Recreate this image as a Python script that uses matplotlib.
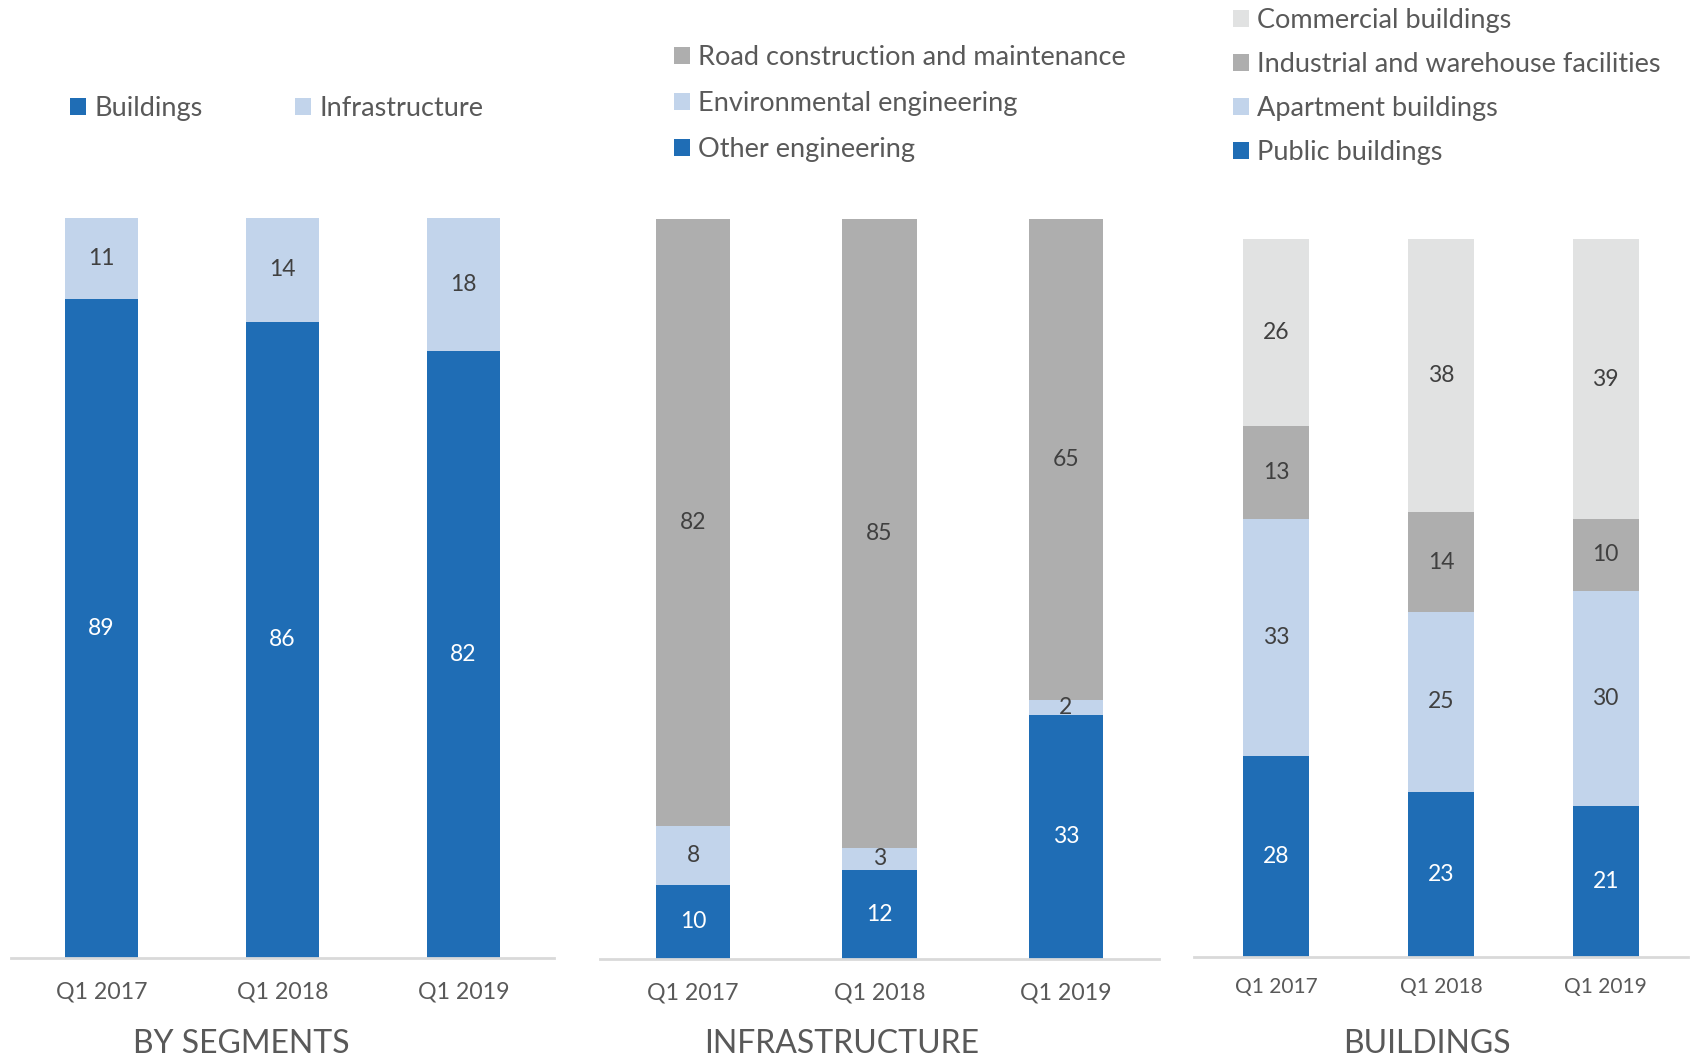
import matplotlib
matplotlib.use("Agg")
import matplotlib.pyplot as plt
import numpy as np

plt.rcParams['font.family'] = ['Lato', 'DejaVu Sans']

quarters = ["Q1 2017", "Q1 2018", "Q1 2019"]

# by segments
seg_buildings = [89, 86, 82]
seg_infra = [11, 14, 18]

# infrastructure
inf_other = [10, 12, 33]
inf_env = [8, 3, 2]
inf_road = [82, 85, 65]

# buildings
bld_public = [28, 23, 21]
bld_apartment = [33, 25, 30]
bld_industrial = [13, 14, 10]
bld_commercial = [26, 38, 39]

BLUE = "#1F6DB5"
LIGHTBLUE = "#C2D4EB"
GRAY = "#AEAEAE"
LIGHTGRAY = "#E1E2E2"
TXT = "#595959"
DARK = "#404040"

W, H = 1691, 1061
fig = plt.figure(figsize=(W / 100, H / 100), dpi=100)


def px_axes(x0, x1, ybase, ytop):
    return fig.add_axes([x0 / W, 1 - ybase / H, (x1 - x0) / W, (ybase - ytop) / H])


def stacked(ax, series, colors, labelcolors, tick_size):
    x = np.arange(len(quarters))
    bottom = np.zeros(len(quarters))
    handles = []
    for (name, vals), c, lc in zip(series, colors, labelcolors):
        bars = ax.bar(x, vals, 0.4, bottom=bottom, color=c, label=name)
        ax.bar_label(bars, labels=[str(v) for v in vals], label_type='center',
                     color=lc, fontsize=16.5)
        bottom += np.array(vals)
        handles.append(bars)
    ax.set_xlim(-0.5, len(quarters) - 0.5)
    ax.set_ylim(0, 100)
    ax.set_xticks(x)
    ax.set_xticklabels(quarters, fontsize=tick_size, color=TXT)
    ax.tick_params(axis='x', length=0, pad=17)
    ax.set_yticks([])
    for s in ['top', 'right', 'left']:
        ax.spines[s].set_visible(False)
    ax.spines['bottom'].set_color("#D9D9D9")
    ax.spines['bottom'].set_linewidth(2)
    ax.set_facecolor('none')
    return handles


leg_kw = dict(frameon=False, fontsize=19.5, labelcolor=TXT, handlelength=0.6,
              handleheight=0.6, handletextpad=0.3, borderpad=0, borderaxespad=0,
              bbox_transform=fig.transFigure, loc='upper left')

# panel 1
ax1 = px_axes(11, 554, 958, 218)
h1 = stacked(ax1, [("Buildings", seg_buildings), ("Infrastructure", seg_infra)],
             [BLUE, LIGHTBLUE], ["white", DARK], 16.7)
ax1.legend(handles=h1, ncol=2, columnspacing=3.4, bbox_to_anchor=(70 / W, 1 - 96 / H), **leg_kw)

# panel 2
ax2 = px_axes(600, 1159, 958.7, 218.9)
h2 = stacked(ax2, [("Other engineering", inf_other), ("Environmental engineering", inf_env),
                   ("Road construction and maintenance", inf_road)],
             [BLUE, LIGHTBLUE, GRAY], ["white", DARK, DARK], 16.7)
ax2.legend(handles=h2[::-1], labelspacing=0.77, bbox_to_anchor=(674 / W, 1 - 45 / H), **leg_kw)

# panel 3
ax3 = px_axes(1194, 1688, 956.6, 239.4)
h3 = stacked(ax3, [("Public buildings", bld_public), ("Apartment buildings", bld_apartment),
                   ("Industrial and warehouse facilities", bld_industrial),
                   ("Commercial buildings", bld_commercial)],
             [BLUE, LIGHTBLUE, GRAY, LIGHTGRAY], ["white", DARK, DARK, DARK], 15)
ax3.tick_params(axis='x', pad=15)
ax3.legend(handles=h3[::-1], labelspacing=0.7, bbox_to_anchor=(1233 / W, 1 - 8 / H), **leg_kw)

# panel titles
for label, xc in [("BY SEGMENTS", 241.5), ("INFRASTRUCTURE", 842), ("BUILDINGS", 1427)]:
    fig.text(xc / W, 1 - 1044 / H, label, ha='center', va='center', fontsize=23, color=TXT)

fig.savefig("out.png", dpi=100, facecolor='white')
